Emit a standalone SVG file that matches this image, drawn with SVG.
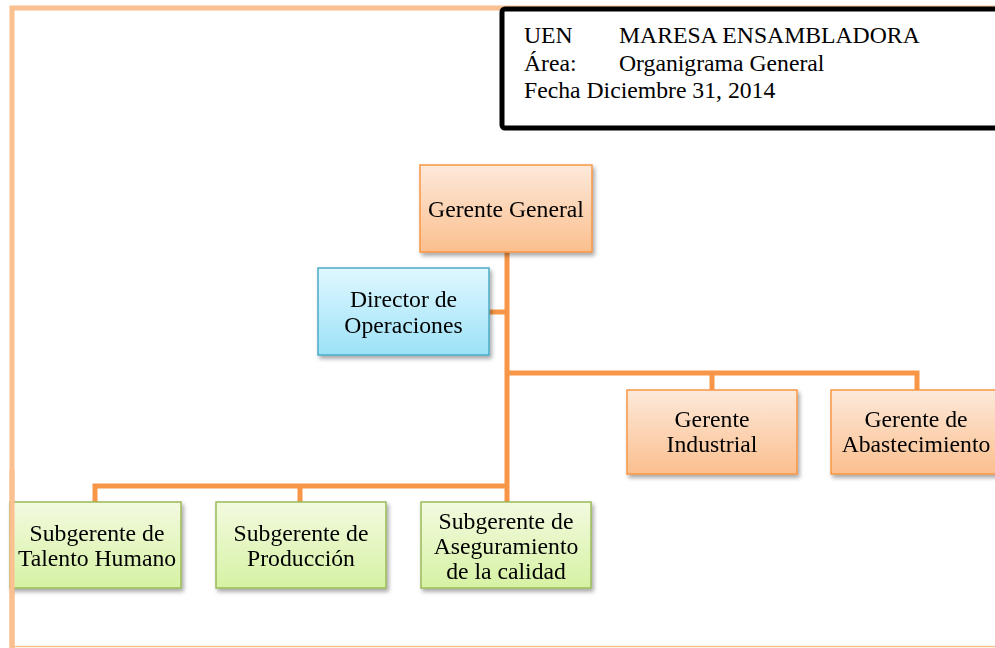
<svg xmlns="http://www.w3.org/2000/svg" width="995" height="648" viewBox="0 0 995 648">
<style>
text{font-family:"Liberation Serif","Times New Roman",serif;font-size:23.7px;fill:#000}
.c{text-anchor:middle}
.or{fill:url(#gOr);stroke:#F79646;stroke-width:1.5}
.bl{fill:url(#gBl);stroke:#4BACC6;stroke-width:1.5}
.gr{fill:url(#gGr);stroke:#9BBB59;stroke-width:1.5}
.ln{stroke:#F79646;stroke-width:5;fill:none}
</style>
<defs>
<linearGradient id="gOr" x1="0" y1="0" x2="0" y2="1"><stop offset="0" stop-color="#FDE9DA"/><stop offset="1" stop-color="#FBBF8E"/></linearGradient>
<linearGradient id="gBl" x1="0" y1="0" x2="0" y2="1"><stop offset="0" stop-color="#E0F7FF"/><stop offset="1" stop-color="#9CE2F8"/></linearGradient>
<linearGradient id="gGr" x1="0" y1="0" x2="0" y2="1"><stop offset="0" stop-color="#F3FADF"/><stop offset="1" stop-color="#D6F2A4"/></linearGradient>
<filter id="sh" x="-10%" y="-10%" width="125%" height="130%"><feDropShadow dx="2" dy="3" stdDeviation="2" flood-color="#000" flood-opacity="0.35"/></filter>
</defs>
<rect width="995" height="648" fill="#fff"/>
<g id="frame">
<path d="M12,648 V8 H1000" fill="none" stroke="#FAC090" stroke-width="5"/>
<line x1="12" y1="646.5" x2="995" y2="646.5" stroke="#FAC090" stroke-width="1.5"/>
</g>
<g id="header">
<rect x="502" y="9" width="510" height="119" rx="3" fill="#fff" stroke="#000" stroke-width="5"/>
<text x="524" y="43">UEN</text><text x="619" y="43">MARESA ENSAMBLADORA</text>
<text x="524" y="71">Área:</text><text x="619" y="71">Organigrama General</text>
<text x="524" y="98">Fecha Diciembre 31, 2014</text>
</g>
<g id="connectors">
<line class="ln" x1="507" y1="252" x2="507" y2="503"/>
<line class="ln" x1="489" y1="312" x2="507" y2="312"/>
<path class="ln" d="M507,373 H917 V391"/>
<line class="ln" x1="712" y1="373" x2="712" y2="391"/>
<path class="ln" d="M507,486 H95 V503"/>
<line class="ln" x1="300" y1="486" x2="300" y2="503"/>
</g>
<g id="gerente-general" filter="url(#sh)">
<rect class="or" x="420" y="165" width="172" height="87"/>
<text class="c" x="506" y="217">Gerente General</text>
</g>
<g id="director-operaciones" filter="url(#sh)">
<rect class="bl" x="318" y="268" width="171" height="87"/>
<text class="c" x="403.5" y="307">Director de</text>
<text class="c" x="403.5" y="333">Operaciones</text>
</g>
<g id="gerente-industrial" filter="url(#sh)">
<rect class="or" x="627" y="390" width="170" height="84"/>
<text class="c" x="712" y="427">Gerente</text>
<text class="c" x="712" y="452">Industrial</text>
</g>
<g id="gerente-abastecimiento" filter="url(#sh)">
<rect class="or" x="831" y="390" width="172" height="84"/>
<text class="c" x="916" y="427">Gerente de</text>
<text class="c" x="916" y="452">Abastecimiento</text>
</g>
<g id="subgerente-talento" filter="url(#sh)">
<rect class="gr" x="10" y="502" width="171" height="86"/>
<text class="c" x="97" y="541">Subgerente de</text>
<text class="c" x="97" y="566">Talento Humano</text>
</g>
<g id="subgerente-produccion" filter="url(#sh)">
<rect class="gr" x="216" y="502" width="170" height="86"/>
<text class="c" x="301" y="541">Subgerente de</text>
<text class="c" x="301" y="566">Producción</text>
</g>
<g id="subgerente-calidad" filter="url(#sh)">
<rect class="gr" x="421" y="502" width="170" height="86"/>
<text class="c" x="506" y="529">Subgerente de</text>
<text class="c" x="506" y="554">Aseguramiento</text>
<text class="c" x="506" y="579">de la calidad</text>
</g>
<path d="M12,470 V648" fill="none" stroke="#FAC090" stroke-width="5"/>
</svg>
